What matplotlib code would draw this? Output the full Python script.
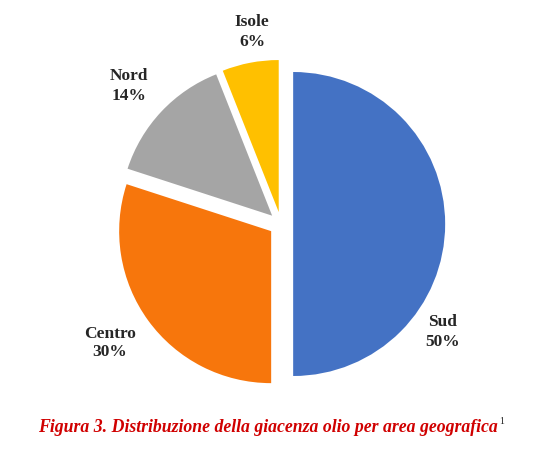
import matplotlib.pyplot as plt

# distribuzione giacenza olio per area geografica (%)
aree = ['Sud', 'Centro', 'Nord', 'Isole']
quote = [50, 30, 14, 6]
colori = ['#4472C4', '#F7760C', '#A5A5A5', '#FFC000']

W, H = 549, 457
R = 152.0           # raggio in pixel
cx, cy = 281, 233   # centro torta (pixel, dal basso)

fig = plt.figure(figsize=(W / 100, H / 100), dpi=100)
ax = fig.add_axes([0, 0, 1, 1])

wedges, _ = ax.pie(quote, colors=colori, startangle=90, counterclock=False,
                   explode=[0.08] * len(quote), radius=1.0,
                   wedgeprops=dict(linewidth=0))

ax.set_xlim(-cx / R, (W - cx) / R)
ax.set_ylim(-cy / R, (H - cy) / R)
ax.set_aspect('auto')
ax.axis('off')

# posizioni etichette (pixel immagine)
pos_etichette = {'Sud': (443, 332), 'Centro': (110, 343),
                 'Nord': (129, 86), 'Isole': (252, 32)}
for nome, q in zip(aree, quote):
    px, py = pos_etichette[nome]
    ax.text((px - cx) / R, (H - py - cy) / R, f'{nome}\n{q}%',
            ha='center', va='center', fontsize=12.5, fontweight='bold',
            family='Liberation Serif', color='#262626', linespacing=1.25)

fig.text(268 / W, 1 - 428 / H,
         'Figura 3. Distribuzione della giacenza olio per area geografica',
         ha='center', va='center', fontsize=12.8, fontweight='bold',
         fontstyle='italic', family='Liberation Serif', color='#D00000')
fig.text(502 / W, 1 - 421 / H, '1', ha='center', va='center', fontsize=7,
         family='Liberation Serif', color='#222222')

fig.savefig('out.png', dpi=100)
